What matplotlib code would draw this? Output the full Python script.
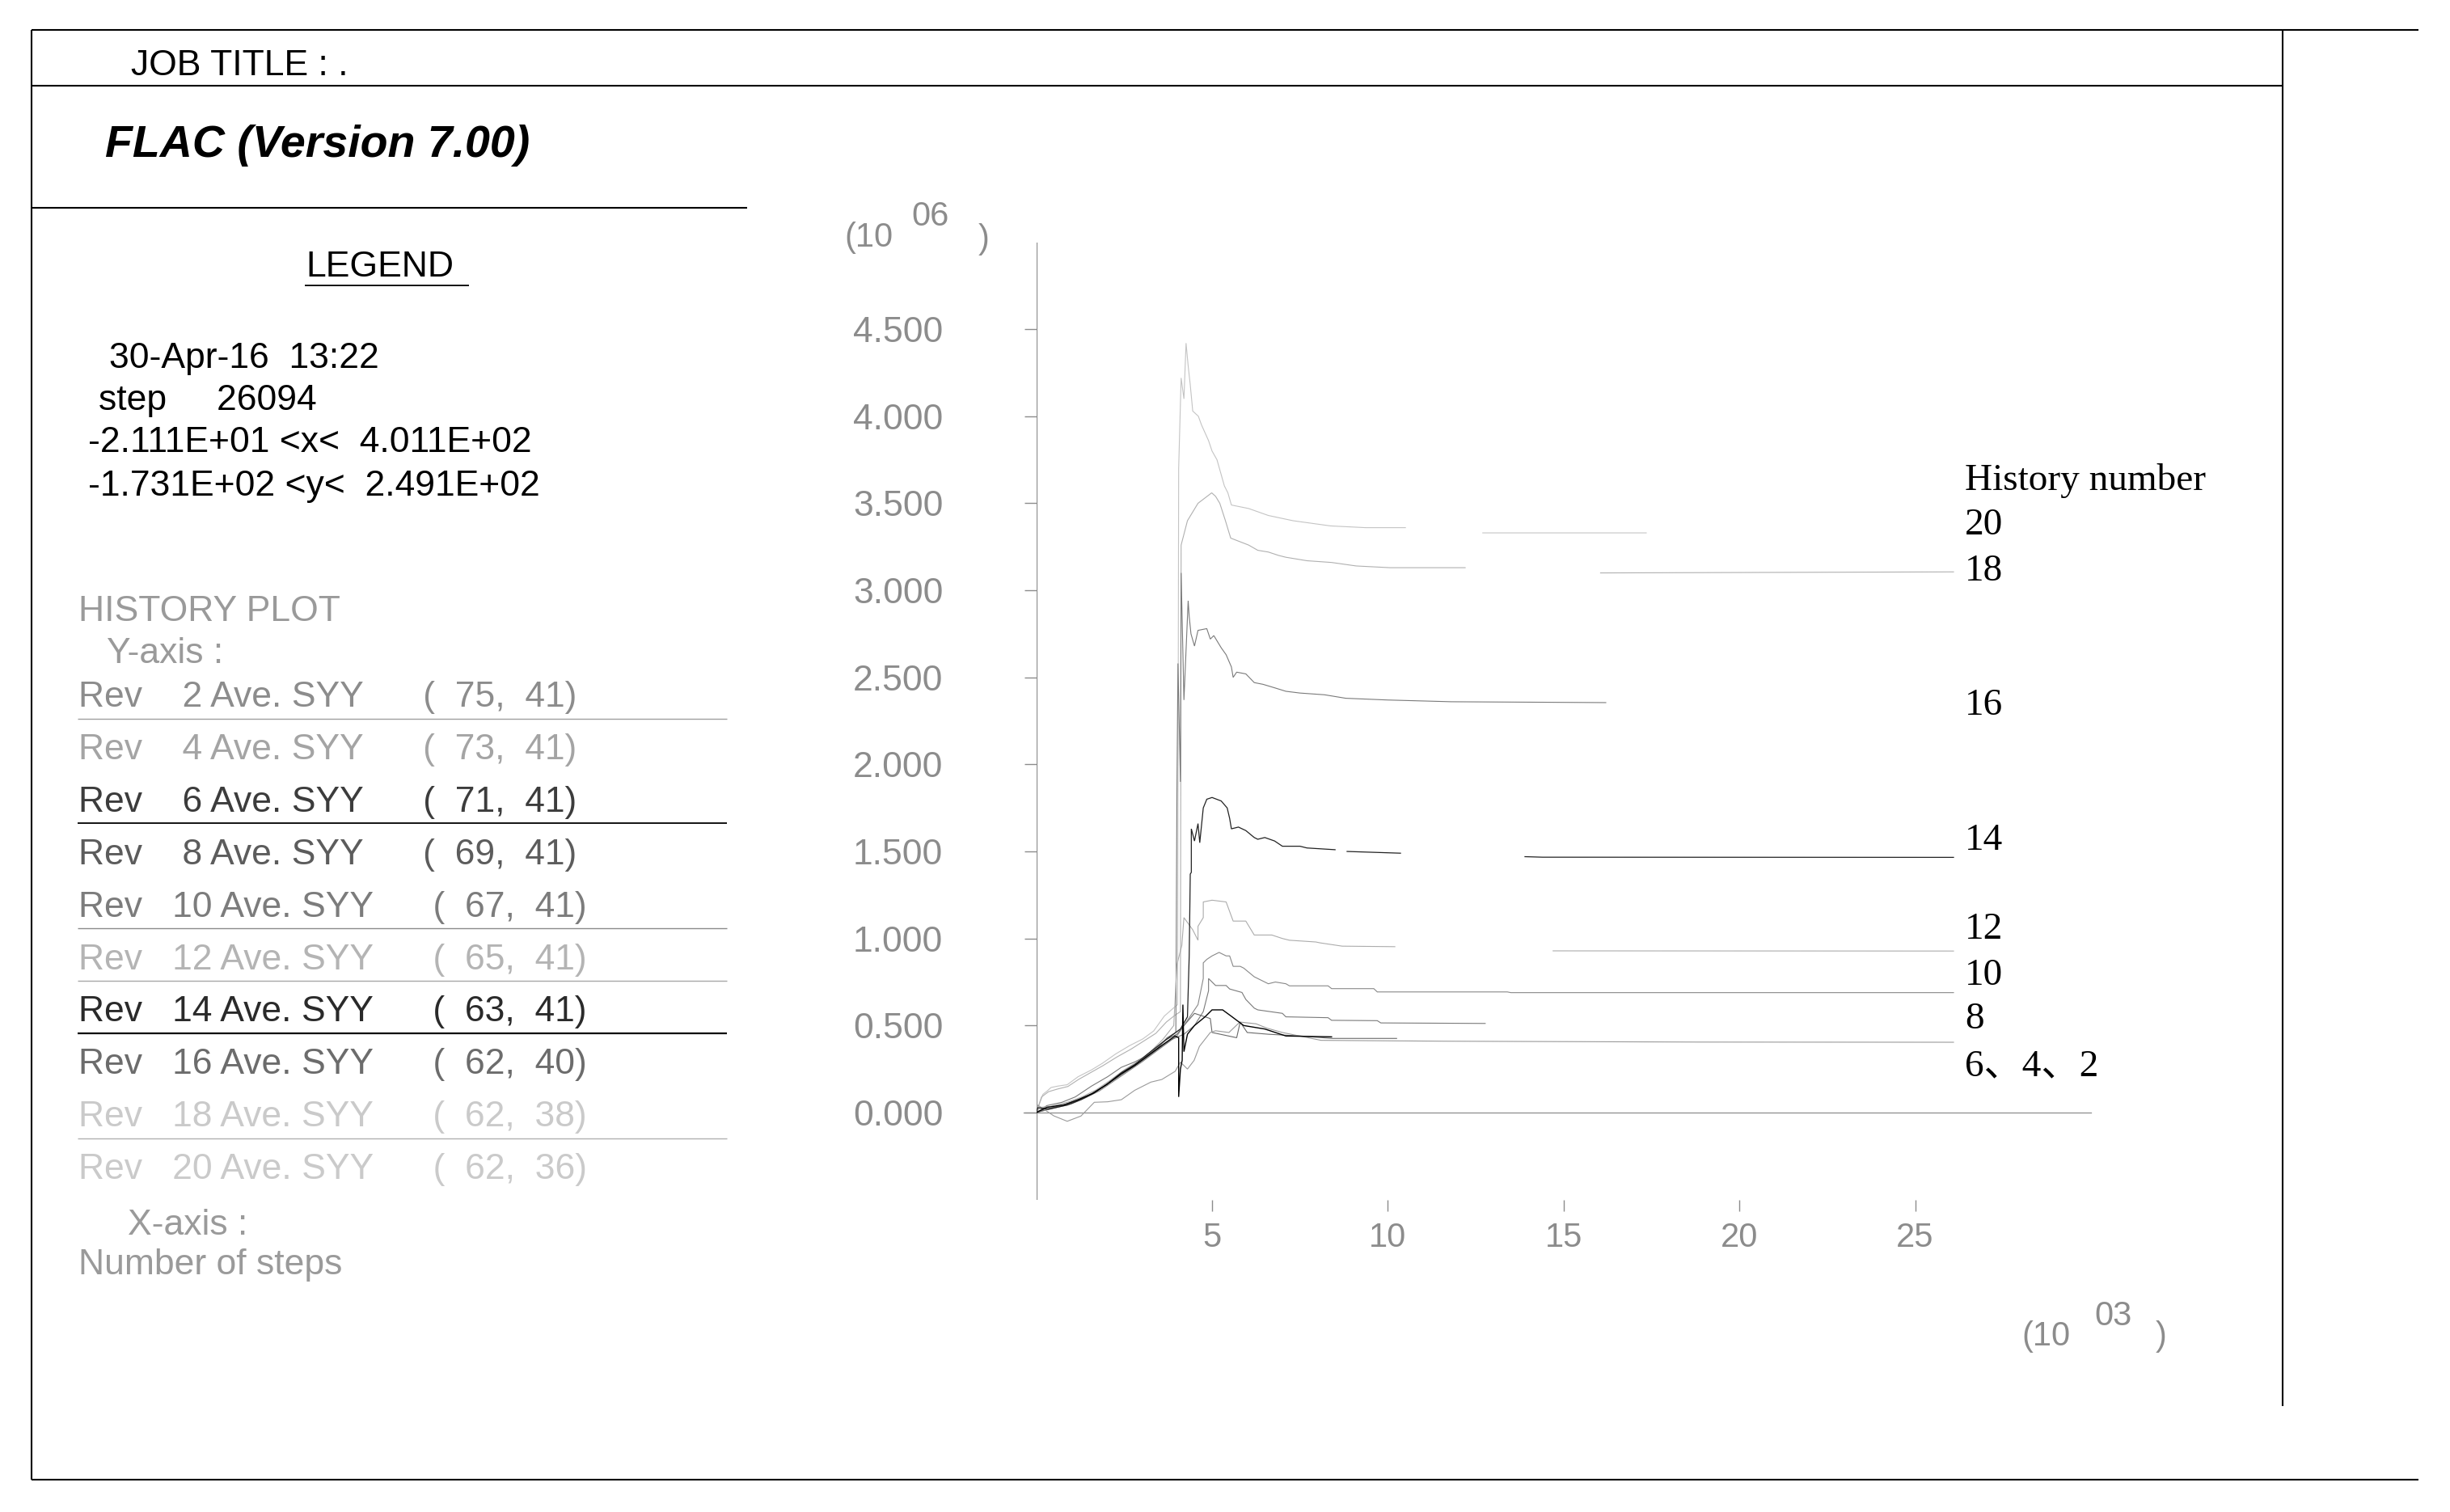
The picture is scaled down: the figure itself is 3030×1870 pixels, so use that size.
import numpy as np
import matplotlib
matplotlib.use("Agg")
import matplotlib.pyplot as plt

plt.rcParams['font.family'] = ['Liberation Sans', 'DejaVu Sans']

nan = np.nan

# ---------------- data (x in 10^3 steps, y in 10^6) ----------------
h20_x = [0, 0.19, 0.31, 0.42, 0.61, 0.88, 1.19, 1.57, 1.88, 2.26, 2.65, 3.03, 3.34, 3.64, 3.90, 4.02, 4.05, 4.12, 4.20, 4.26, 4.32, 4.38, 4.45, 4.61, 4.70, 4.90, 5.00, 5.14, 5.35, 5.45, 5.55, 6.04, 6.60, 7.30, 8.37, 9.37, 10.50, nan, 12.70, 17.35]
h20_y = [0, 0.105, 0.124, 0.144, 0.152, 0.160, 0.206, 0.245, 0.283, 0.337, 0.384, 0.423, 0.469, 0.554, 0.600, 0.620, 3.70, 4.22, 4.10, 4.42, 4.29, 4.18, 4.03, 4.00, 3.95, 3.86, 3.80, 3.75, 3.60, 3.56, 3.49, 3.47, 3.43, 3.40, 3.37, 3.36, 3.36, nan, 3.33, 3.33]

h18_x = [0, 0.15, 0.35, 0.60, 0.90, 1.20, 1.55, 1.90, 2.30, 2.70, 3.05, 3.40, 3.70, 3.95, 4.10, 4.12, 4.30, 4.60, 4.99, 5.10, 5.22, 5.38, 5.53, 6.04, 6.30, 6.60, 6.90, 7.10, 7.70, 8.40, 9.10, 10.07, 12.20, nan, 16.05, 26.09]
h18_y = [0, 0.09, 0.12, 0.135, 0.15, 0.19, 0.23, 0.27, 0.32, 0.365, 0.41, 0.455, 0.52, 0.56, 0.58, 3.26, 3.40, 3.50, 3.56, 3.54, 3.50, 3.40, 3.30, 3.26, 3.23, 3.22, 3.20, 3.19, 3.17, 3.16, 3.14, 3.13, 3.13, nan, 3.10, 3.106]

h16_x = [0, 0.30, 0.73, 1.11, 1.57, 2.03, 2.42, 2.80, 3.10, 3.41, 3.72, 3.97, 4.00, 4.03, 4.10, 4.12, 4.20, 4.32, 4.35, 4.40, 4.50, 4.60, 4.85, 4.95, 5.05, 5.26, 5.40, 5.55, 5.60, 5.70, 5.96, 6.20, 6.45, 6.78, 7.10, 7.50, 8.20, 8.80, 10.00, 11.80, 16.20]
h16_y = [0, 0.04, 0.059, 0.09, 0.152, 0.206, 0.26, 0.291, 0.322, 0.36, 0.43, 0.46, 1.83, 2.58, 1.90, 3.10, 2.37, 2.94, 2.85, 2.75, 2.68, 2.77, 2.78, 2.72, 2.74, 2.67, 2.63, 2.56, 2.50, 2.53, 2.52, 2.47, 2.46, 2.44, 2.42, 2.41, 2.40, 2.38, 2.37, 2.36, 2.355]

h14_x = [0, 0.04, 0.35, 0.88, 1.27, 1.65, 2.03, 2.42, 2.80, 3.18, 3.57, 3.87, 4.10, 4.30, 4.35, 4.38, 4.41, 4.41, 4.50, 4.60, 4.65, 4.75, 4.85, 5.00, 5.26, 5.43, 5.50, 5.55, 5.75, 5.96, 6.20, 6.30, 6.50, 6.78, 7.00, 7.50, 7.70, 8.50, nan, 8.84, 10.36, nan, 13.90, 14.40, 26.09]
h14_y = [0, 0.028, 0.02, 0.043, 0.074, 0.113, 0.167, 0.229, 0.276, 0.338, 0.40, 0.446, 0.48, 0.55, 0.90, 1.37, 1.38, 1.63, 1.56, 1.66, 1.55, 1.75, 1.80, 1.81, 1.79, 1.75, 1.69, 1.63, 1.64, 1.62, 1.58, 1.57, 1.58, 1.56, 1.53, 1.53, 1.52, 1.51, nan, 1.50, 1.49, nan, 1.47, 1.467, 1.466]

h12_x = [0, 0.10, 0.40, 0.90, 1.30, 1.70, 2.10, 2.50, 2.90, 3.25, 3.60, 3.91, 4.00, 4.14, 4.20, 4.45, 4.60, 4.60, 4.75, 4.75, 5.00, 5.40, 5.60, 5.96, 6.20, 6.70, 7.00, 7.20, 7.95, 8.07, 8.70, 10.20, nan, 14.70, 26.09]
h12_y = [0, 0.03, 0.035, 0.06, 0.09, 0.13, 0.185, 0.245, 0.295, 0.35, 0.42, 0.50, 0.85, 0.96, 1.12, 1.05, 0.99, 1.07, 1.12, 1.21, 1.22, 1.21, 1.10, 1.10, 1.02, 1.02, 1.00, 0.99, 0.98, 0.975, 0.956, 0.953, nan, 0.929, 0.928]

h10_x = [0, 0.20, 0.60, 1.00, 1.40, 1.80, 2.20, 2.60, 3.00, 3.40, 3.80, 4.00, 4.20, 4.40, 4.60, 4.75, 4.75, 4.85, 5.00, 5.20, 5.40, 5.50, 5.60, 5.80, 5.90, 6.20, 6.30, 6.60, 6.80, 7.10, 7.20, 8.30, 8.40, 9.60, 9.70, 13.40, 13.50, 26.09]
h10_y = [0, 0.01, 0.03, 0.05, 0.085, 0.125, 0.18, 0.235, 0.29, 0.35, 0.41, 0.44, 0.50, 0.56, 0.62, 0.77, 0.86, 0.88, 0.90, 0.92, 0.90, 0.90, 0.84, 0.84, 0.83, 0.78, 0.77, 0.74, 0.75, 0.74, 0.728, 0.728, 0.712, 0.712, 0.693, 0.693, 0.689, 0.689]

h8_x = [0, 0.25, 0.70, 1.10, 1.50, 1.90, 2.30, 2.70, 3.10, 3.50, 3.85, 4.20, 4.50, 4.75, 4.90, 4.90, 5.10, 5.40, 5.50, 5.85, 5.96, 6.20, 6.30, 7.00, 7.10, 8.30, 8.40, 9.70, 9.80, 12.77]
h8_y = [0, 0.02, 0.04, 0.065, 0.10, 0.15, 0.20, 0.255, 0.31, 0.37, 0.42, 0.45, 0.50, 0.58, 0.70, 0.77, 0.73, 0.73, 0.71, 0.69, 0.65, 0.60, 0.59, 0.57, 0.55, 0.545, 0.53, 0.528, 0.515, 0.512]

h6_x = [0, 0.30, 0.80, 1.20, 1.60, 2.00, 2.40, 2.80, 3.20, 3.60, 3.95, 4.05, 4.05, 4.10, 4.15, 4.17, 4.20, 4.30, 4.50, 4.80, 5.00, 5.30, 5.57, 5.90, 6.50, 7.10, 8.40]
h6_y = [0, 0.03, 0.045, 0.075, 0.11, 0.16, 0.22, 0.27, 0.33, 0.39, 0.44, 0.43, 0.09, 0.25, 0.30, 0.62, 0.35, 0.45, 0.50, 0.55, 0.59, 0.59, 0.55, 0.50, 0.48, 0.44, 0.435]

h4_x = [0, 0.50, 0.90, 1.30, 1.70, 2.10, 2.50, 2.90, 3.30, 3.70, 4.00, 4.20, 4.50, 4.95, 5.00, 5.70, 5.80, 6.00, 6.60, 7.50, 8.40, 10.25]
h4_y = [0, 0.03, 0.05, 0.08, 0.12, 0.175, 0.235, 0.285, 0.35, 0.42, 0.45, 0.50, 0.57, 0.54, 0.46, 0.43, 0.52, 0.46, 0.45, 0.44, 0.426, 0.426]

h2_x = [0, 0.04, 0.50, 0.88, 1.27, 1.65, 2.03, 2.42, 2.80, 3.26, 3.57, 3.95, 4.10, 4.30, 4.49, 4.64, 4.95, 5.10, 5.48, 5.79, 6.25, 6.56, 7.00, 8.10, 11.60, 18.90, 26.09]
h2_y = [0, 0.043, -0.019, -0.05, -0.02, 0.059, 0.062, 0.074, 0.128, 0.175, 0.19, 0.237, 0.29, 0.25, 0.30, 0.38, 0.46, 0.47, 0.46, 0.52, 0.51, 0.485, 0.46, 0.415, 0.41, 0.405, 0.404]

history_ids = [2, 4, 6, 8, 10, 12, 14, 16, 18, 20]
history_points = [(75, 41), (73, 41), (71, 41), (69, 41), (67, 41), (65, 41), (63, 41), (62, 40), (62, 38), (62, 36)]

y_tick_values = [0.0, 0.5, 1.0, 1.5, 2.0, 2.5, 3.0, 3.5, 4.0, 4.5]
y_tick_labels = ["0.000", "0.500", "1.000", "1.500", "2.000", "2.500", "3.000", "3.500", "4.000", "4.500"]
x_tick_values = [5, 10, 15, 20, 25]
x_tick_labels = ["5", "10", "15", "20", "25"]

right_labels = ["History number", "20", "18", "16", "14", "12", "10", "8", "6\u30014\u30012"]

# ---------------- figure ----------------
W, H = 3030, 1870
fig = plt.figure(figsize=(W / 100, H / 100), dpi=100)
fig.patch.set_facecolor('white')

bg = fig.add_axes([0, 0, 1, 1], zorder=0)
bg.set_xlim(0, W)
bg.set_ylim(H, 0)
bg.axis('off')

def hline(y, x0, x1, lw=1.5, color='black', **kw):
    bg.plot([x0, x1], [y, y], color=color, lw=lw, solid_capstyle='butt', **kw)

def vline(x, y0, y1, lw=1.5, color='black'):
    bg.plot([x, x], [y0, y1], color=color, lw=lw, solid_capstyle='butt')

# frame
hline(36.7, 38.6, 2991)
hline(1830, 38.6, 2991)
vline(38.6, 36.7, 1830)
vline(2823, 36.7, 1739)
hline(106.3, 38.6, 2823)
hline(257, 38.6, 923.7)

FS = 32
bg.text(162, 93, "JOB TITLE : .", fontsize=FS, va='baseline', ha='left')
bg.text(130, 194, "FLAC (Version 7.00)", fontsize=40, fontweight='bold', fontstyle='italic', va='baseline', ha='left')
bg.text(378, 342, "LEGEND", fontsize=FS, va='baseline', ha='left')
hline(352.7, 377, 579.5, lw=1.3)
bg.text(134.6, 455, "30-Apr-16  13:22", fontsize=FS, va='baseline')
bg.text(122, 507, "step     26094", fontsize=FS, va='baseline')
bg.text(108.8, 559.3, "-2.111E+01 <x<  4.011E+02", fontsize=FS, va='baseline')
bg.text(108.8, 613.3, "-1.731E+02 <y<  2.491E+02", fontsize=FS, va='baseline')

grey = '#9a9a9a'
bg.text(97, 768, "HISTORY PLOT", fontsize=FS, va='baseline', color=grey)
bg.text(132, 820, "Y-axis :", fontsize=FS, va='baseline', color=grey)
bg.text(158, 1527, "X-axis :", fontsize=FS, va='baseline', color=grey)
bg.text(97, 1576, "Number of steps", fontsize=FS, va='baseline', color=grey)

row_text_colors = ['#8c8c8c', '#a4a4a4', '#3c3c3c', '#5c5c5c', '#7c7c7c', '#b4b4b4', '#2a2a2a', '#6c6c6c', '#cacaca', '#cacaca']
row_line_styles = {2: ('#a0a0a0', 1.0), 6: ('black', 1.3), 10: ('#8a8a8a', 1.0), 12: ('#a8a8a8', 1.0), 14: ('black', 1.6), 18: ('#b0b0b0', 1.0)}
for i, (n, (a, b)) in enumerate(zip(history_ids, history_points)):
    base = 874 + 64.9 * i
    sp = ' ' * (4 if n < 10 else 3)
    s = f"Rev{sp}{n} Ave. SYY      (  {a},  {b})"
    bg.text(97, base, s, fontsize=FS, va='baseline', color=row_text_colors[i])
    if n in row_line_styles:
        c, lw = row_line_styles[n]
        hline(base + 14.5, 95.6, 899.3, lw=lw, color=c)

# axis multipliers
bg.text(1044, 305, "(10", fontsize=30, va='baseline', color='#8c8c8c')
bg.text(1127, 279, "06", fontsize=30, va='baseline', color='#8c8c8c')
bg.text(1210, 307, ")", fontsize=30, va='baseline', color='#8c8c8c')
bg.text(2500, 1664, "(10", fontsize=30, va='baseline', color='#8c8c8c')
bg.text(2590, 1639, "03", fontsize=30, va='baseline', color='#8c8c8c')
bg.text(2666, 1664, ")", fontsize=30, va='baseline', color='#8c8c8c')

# right side labels
label_baselines = [606, 661, 718, 883.5, 1051, 1161, 1218, 1272, 1330]
for t, yb in zip(right_labels, label_baselines):
    bg.text(2430, yb, t, fontsize=34, va='baseline', ha='left',
            family=['Liberation Serif', 'Noto Sans CJK SC'])

# ---------------- data axes ----------------
x0px, x30px = 1281.6, 1281.6 + 30 * 43.48
ytop, ybot = 1376 - 5.0 * 215.3, 1376 + 0.5 * 215.3
ax = fig.add_axes([x0px / W, 1 - ybot / H, (x30px - x0px) / W, (ybot - ytop) / H], zorder=1)
ax.patch.set_alpha(0)
ax.set_xlim(0, 30)
ax.set_ylim(-0.5, 5.0)
for sp_ in ax.spines.values():
    sp_.set_visible(False)

axc = '#8c8c8c'
ax.axvline(0, color=axc, lw=0.9)
ax.axhline(0, xmin=-0.0119, xmax=1.0, color=axc, lw=0.9, clip_on=False)

ax.set_yticks(y_tick_values)
ax.set_yticklabels(y_tick_labels)
ax.set_xticks(x_tick_values)
ax.set_xticklabels(x_tick_labels)
ax.tick_params(axis='y', direction='out', length=11, width=1, color=axc, labelcolor=axc, labelsize=32, pad=72)
ax.tick_params(axis='x', direction='out', length=10, width=1, color=axc, labelcolor=axc, labelsize=30, pad=10)

series = [
    (h20_x, h20_y, '#c4c4c4', 0.8),
    (h18_x, h18_y, '#b0b0b0', 0.8),
    (h16_x, h16_y, '#7a7a7a', 0.8),
    (h12_x, h12_y, '#acacac', 0.8),
    (h10_x, h10_y, '#888888', 0.8),
    (h8_x, h8_y, '#7a7a7a', 0.8),
    (h4_x, h4_y, '#6a6a6a', 0.8),
    (h2_x, h2_y, '#9a9a9a', 0.8),
    (h14_x, h14_y, '#222222', 0.9),
    (h6_x, h6_y, '#000000', 1.0),
]
for xs, ys, c, lw in series:
    ax.plot(xs, ys, color=c, lw=lw, solid_joinstyle='miter')

fig.savefig("out.png", dpi=100, facecolor='white')
